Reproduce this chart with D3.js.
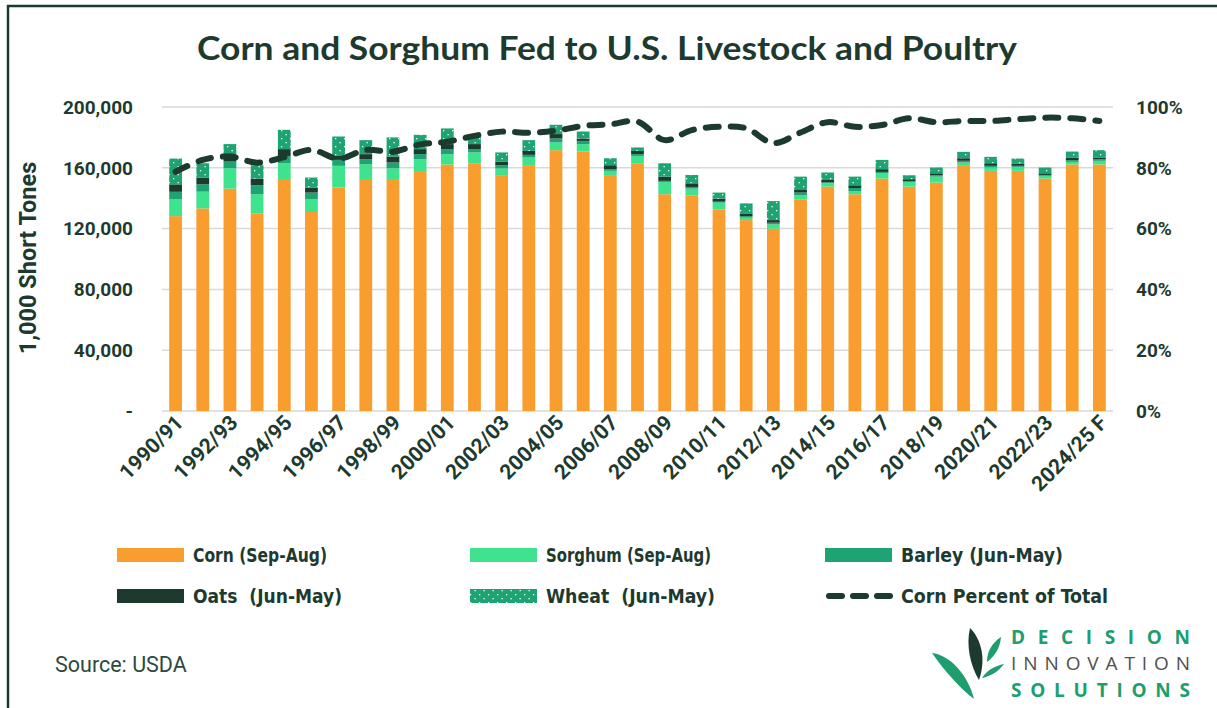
<!DOCTYPE html>
<html><head><meta charset="utf-8">
<script src="https://cdn.jsdelivr.net/npm/d3@7"></script>
<style>
html,body{margin:0;padding:0;background:#fff;}
svg{display:block;}
</style></head>
<body>
<svg id="chart" width="1217" height="708"></svg>
<script>
const categories = ["1990/91","1991/92","1992/93","1993/94","1994/95","1995/96","1996/97","1997/98","1998/99","1999/00","2000/01","2001/02","2002/03","2003/04","2004/05","2005/06","2006/07","2007/08","2008/09","2009/10","2010/11","2011/12","2012/13","2013/14","2014/15","2015/16","2016/17","2017/18","2018/19","2019/20","2020/21","2021/22","2022/23","2023/24","2024/25 F"];
const corn    = [128200,133300,146300,130000,152000,130900,147000,152000,152000,157300,162200,163000,154700,161300,171600,170700,154700,163000,142600,141900,132700,125600,119900,139300,147600,142600,152900,147600,150300,161300,158000,158000,152900,162200,162200];
const sorghum = [11000,11000,13400,12600,11000,8400,14300,10400,7700,8400,6800,7100,4800,5500,5100,4900,3300,4800,8100,4400,4400,1600,2900,2600,2200,2100,3500,3100,3900,2200,2200,2600,1800,1700,2400];
const barley  = [5000,4900,4400,5900,4800,4400,3900,3300,3800,3300,3300,2200,2200,1700,2600,2100,1100,1200,700,1100,600,1000,1100,1800,700,2000,900,400,900,1100,1100,700,600,1100,1100];
const oats    = [4900,4400,4600,4400,4500,3300,2600,3300,3900,3300,3300,3300,2400,2600,2900,1600,2600,2100,2800,2400,2000,1800,1700,1700,1500,1800,1800,1400,1300,1700,1700,1300,1100,1800,1100];
const wheat   = [17000,9400,6900,8800,12700,6600,12800,9200,12600,9400,10300,5000,6000,7100,6100,4600,4600,2300,8800,5500,4000,6600,12500,8800,4900,5700,6100,2600,3800,4200,4200,3500,3800,3900,4800];
const cornPct = [78.7,82.6,83.7,81.7,83.5,85.9,83.0,85.9,85.3,87.7,88.6,90.5,91.9,91.5,92.2,93.8,94.3,95.2,89.1,92.4,93.5,93.0,88.1,91.6,95.0,93.5,94.1,96.3,95.0,95.4,95.4,96.0,96.5,96.3,95.4];
const leftTicks  = [0,40000,80000,120000,160000,200000];
const rightTicks = [0,20,40,60,80,100];
const xTickLabels = ["1990/91","1992/93","1994/95","1996/97","1998/99","2000/01","2002/03","2004/05","2006/07","2008/09","2010/11","2012/13","2014/15","2016/17","2018/19","2020/21","2022/23","2024/25 F"];
const seriesNames = ["Corn (Sep-Aug)","Sorghum (Sep-Aug)","Barley (Jun-May)","Oats  (Jun-May)","Wheat  (Jun-May)"];
const lineName = "Corn Percent of Total";
const titleText = "Corn and Sorghum Fed to U.S. Livestock and Poultry";

const INK = "#1e3a2f";
const colors = ["#f99d2f","#40e38d","#1ea373","#1c3a2e","url(#wheatPat)"];

const svg = d3.select("#chart");
const defs = svg.append("defs");
const pat = defs.append("pattern").attr("id","wheatPat").attr("patternUnits","userSpaceOnUse")
  .attr("width",9).attr("height",8);
pat.append("rect").attr("width",9).attr("height",8).attr("fill","#1ea373");
pat.append("rect").attr("x",2).attr("y",2).attr("width",1.3).attr("height",1.3).attr("fill","#e8fff4");
pat.append("rect").attr("x",6.5).attr("y",6).attr("width",1.3).attr("height",1.3).attr("fill","#e8fff4");

// frame
svg.append("path").attr("d","M8,708 L8,6 L1217,6").attr("fill","none").attr("stroke",INK).attr("stroke-width",2.5);

const L=162, R=1113, T=107, B=411;
const x = d3.scaleBand().domain(categories).range([L,R]).paddingInner(0.53).paddingOuter(0.265);
const y = d3.scaleLinear().domain([0,200000]).range([B,T]);
const y2 = d3.scaleLinear().domain([0,100]).range([B,T]);

// title
svg.append("text").attr("x",607).attr("y",60).attr("text-anchor","middle")
  .attr("font-family","Lato, 'Open Sans', sans-serif").attr("font-weight",700).attr("font-size",32)
  .attr("textLength",820).attr("lengthAdjust","spacingAndGlyphs")
  .attr("fill",INK).text(titleText);

// grid
svg.append("g").selectAll("line").data(leftTicks).join("line")
  .attr("x1",L).attr("x2",R).attr("y1",d=>y(d)).attr("y2",d=>y(d))
  .attr("stroke","#d9d9d9").attr("stroke-width",1.5);

// left axis labels
svg.append("g").selectAll("text").data(leftTicks).join("text")
  .attr("x",133).attr("y",d=>y(d)).attr("dy","0.36em").attr("text-anchor","end")
  .attr("font-family","Roboto, sans-serif").attr("font-weight",700).attr("font-size",19)
  .attr("fill",INK).text(d=> d===0 ? "-" : d3.format(",")(d));

// right axis labels
svg.append("g").selectAll("text").data(rightTicks).join("text")
  .attr("x",1136).attr("y",d=>y2(d)).attr("dy","0.36em").attr("text-anchor","start")
  .attr("font-family","Roboto, sans-serif").attr("font-weight",700).attr("font-size",19)
  .attr("fill",INK).text(d=> d+"%");

// y title
svg.append("text").attr("transform","translate(36,258) rotate(-90)").attr("text-anchor","middle")
  .attr("font-family","Roboto, sans-serif").attr("font-weight",700).attr("font-size",23.5)
  .attr("fill",INK).text("1,000 Short Tones");

// stacked bars
const rows = categories.map((c,i)=>({cat:c, corn:corn[i], sorghum:sorghum[i], barley:barley[i], oats:oats[i], wheat:wheat[i]}));
const keys = ["corn","sorghum","barley","oats","wheat"];
const stacked = d3.stack().keys(keys)(rows);
const gBars = svg.append("g");
stacked.forEach((layer,k)=>{
  gBars.append("g").attr("fill",colors[k]).selectAll("rect").data(layer).join("rect")
    .attr("x",d=>x(d.data.cat)).attr("width",x.bandwidth())
    .attr("y",d=>y(d[1])).attr("height",d=>y(d[0])-y(d[1]));
});

// line
const line = d3.line().x((d,i)=>x(categories[i])+x.bandwidth()/2).y(d=>y2(d)).curve(d3.curveCatmullRom.alpha(0.5));
svg.append("path").datum(cornPct).attr("d",line).attr("fill","none")
  .attr("stroke","#1c3a2e").attr("stroke-width",6).attr("stroke-linecap","round")
  .attr("stroke-dasharray","13,12");

// x labels
svg.append("g").selectAll("text").data(xTickLabels).join("text")
  .attr("transform",d=>`translate(${x(d)+x.bandwidth()/2+9},${424}) rotate(-45)`)
  .attr("text-anchor","end")
  .attr("font-family","Roboto, sans-serif").attr("font-weight",700).attr("font-size",21)
  .attr("fill",INK).text(d=>d);

// legend
const legItems = [
  {name:seriesNames[0], col:colors[0], x:117, y:555, w:134},
  {name:seriesNames[1], col:colors[1], x:470, y:555, w:165},
  {name:seriesNames[2], col:colors[2], x:825, y:555, w:162},
  {name:seriesNames[3], col:colors[3], x:117, y:596, w:149},
  {name:seriesNames[4], col:colors[4], x:470, y:596, w:169},
];
const legFont = "'Liberation Sans Narrow','DejaVu Sans Condensed',sans-serif";
const gl = svg.append("g");
legItems.forEach(it=>{
  gl.append("rect").attr("x",it.x).attr("y",it.y-7).attr("width",67).attr("height",14).attr("fill",it.col);
  gl.append("text").attr("x",it.x+76).attr("y",it.y).attr("dy","0.36em").attr("xml:space","preserve")
    .attr("font-family",legFont).attr("font-weight",700)
    .attr("font-size",20).attr("textLength",it.w).attr("lengthAdjust","spacingAndGlyphs")
    .attr("fill",INK).text(it.name);
});
gl.append("line").attr("x1",829).attr("x2",890).attr("y1",596).attr("y2",596)
  .attr("stroke","#1c3a2e").attr("stroke-width",6).attr("stroke-linecap","round").attr("stroke-dasharray","13,11");
gl.append("text").attr("x",901).attr("y",596).attr("dy","0.36em")
  .attr("font-family",legFont).attr("font-weight",700)
  .attr("font-size",20).attr("textLength",207).attr("lengthAdjust","spacingAndGlyphs")
  .attr("fill",INK).text(lineName);

// source
svg.append("text").attr("x",55).attr("y",672).attr("font-family","Roboto, sans-serif")
  .attr("font-size",21.5).attr("fill","#2c4a3e").text("Source: USDA");

// logo
const lg = svg.append("g");
lg.append("path").attr("d","M932,653 C950,655 968,675 974,699 C962,690 945,672 932,653 Z").attr("fill","#1e9e6e");
lg.append("path").attr("d","M970,628 C982,640 986,660 979,680 C970,665 966,645 970,628 Z").attr("fill","#1c3a2e");
lg.append("path").attr("d","M1001,637 C1000,648 995,656 987,662 C987,651 992,643 1001,637 Z").attr("fill","#1e9e6e");
lg.append("path").attr("d","M1004,664 C998,672 991,676 982,678 C987,670 995,666 1004,664 Z").attr("fill","#1e9e6e");
const logoFont = "'Open Sans', 'DejaVu Sans', sans-serif";
lg.append("text").attr("x",1011).attr("y",644).attr("font-family",logoFont).attr("font-weight",700)
  .attr("font-size",19).attr("fill","#1e9e6e").attr("textLength",179).attr("lengthAdjust","spacing").text("DECISION");
lg.append("text").attr("x",1011).attr("y",670).attr("font-family",logoFont).attr("font-weight",400)
  .attr("font-size",19).attr("fill","#505050").attr("textLength",179).attr("lengthAdjust","spacing").text("INNOVATION");
lg.append("text").attr("x",1011).attr("y",697).attr("font-family",logoFont).attr("font-weight",700)
  .attr("font-size",19).attr("fill","#1e9e6e").attr("textLength",179).attr("lengthAdjust","spacing").text("SOLUTIONS");
</script>
</body></html>
